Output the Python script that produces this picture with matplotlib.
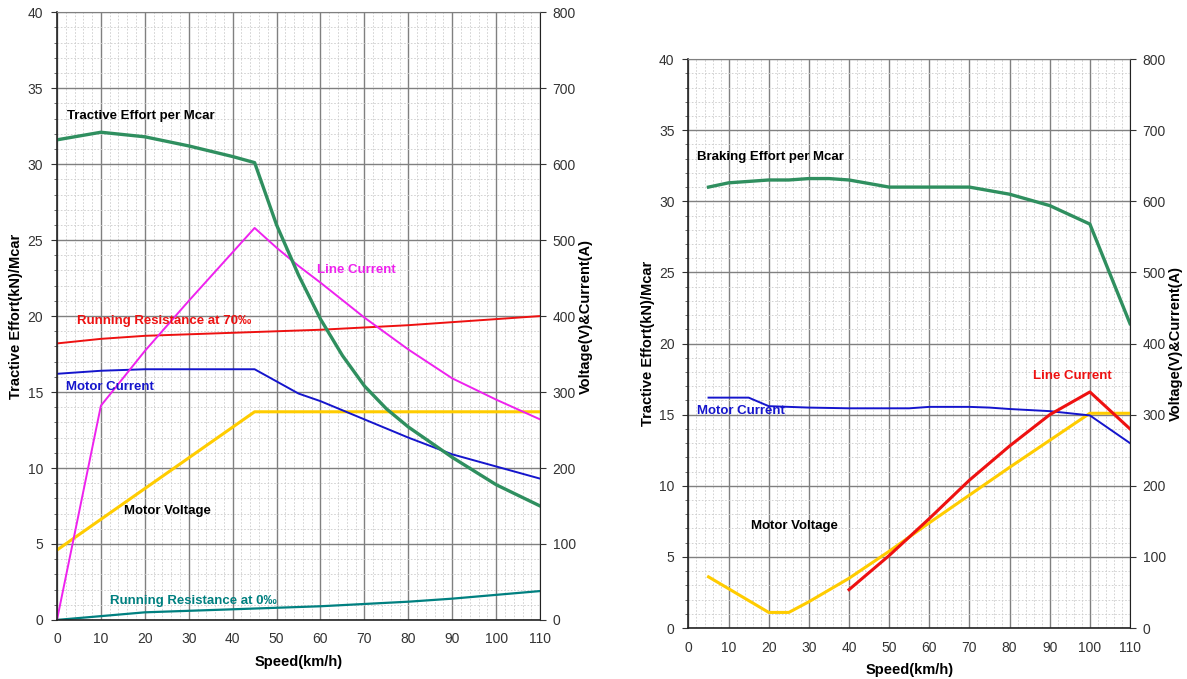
import matplotlib.pyplot as plt
from matplotlib.ticker import MultipleLocator

plt.rcParams['font.family'] = ['Liberation Sans', 'DejaVu Sans']

# ---- powering (left chart) ----
te_speed = [0, 10, 20, 30, 40, 45, 50, 55, 60, 65, 70, 75, 80, 90, 100, 110]
te_force = [31.6, 32.1, 31.8, 31.2, 30.5, 30.1, 26.0, 22.7, 19.8, 17.4, 15.4, 13.9, 12.7, 10.7, 8.9, 7.5]

lc_speed = [0, 10, 20, 30, 40, 45, 50, 55, 60, 70, 80, 90, 100, 110]
lc_value = [0.0, 14.1, 17.7, 21.0, 24.2, 25.8, 24.5, 23.3, 22.2, 19.9, 17.8, 15.9, 14.5, 13.2]

rr70_speed = [0, 10, 20, 30, 40, 50, 60, 70, 80, 90, 100, 110]
rr70_value = [18.2, 18.5, 18.7, 18.8, 18.9, 19.0, 19.1, 19.25, 19.4, 19.6, 19.8, 20.0]

mc_speed = [0, 10, 20, 45, 50, 55, 60, 70, 80, 90, 100, 110]
mc_value = [16.2, 16.4, 16.5, 16.5, 15.7, 14.9, 14.4, 13.2, 12.0, 10.9, 10.1, 9.3]

mv_speed = [0, 45, 110]
mv_value = [4.6, 13.7, 13.7]

rr0_speed = [0, 10, 20, 30, 40, 50, 60, 70, 80, 90, 100, 110]
rr0_value = [0.0, 0.25, 0.5, 0.6, 0.7, 0.8, 0.9, 1.05, 1.2, 1.4, 1.65, 1.9]

# ---- braking (right chart) ----
be_speed = [5, 10, 15, 20, 25, 30, 35, 40, 50, 60, 70, 80, 90, 100, 110]
be_force = [31.0, 31.3, 31.4, 31.5, 31.5, 31.6, 31.6, 31.5, 31.0, 31.0, 31.0, 30.5, 29.7, 28.4, 21.4]

bmc_speed = [5, 15, 20, 30, 40, 55, 60, 70, 75, 80, 90, 100, 110]
bmc_value = [16.2, 16.2, 15.6, 15.5, 15.45, 15.45, 15.55, 15.55, 15.5, 15.4, 15.25, 14.95, 13.0]

bmv_speed = [5, 20, 25, 30, 40, 50, 60, 70, 80, 90, 100, 110]
bmv_value = [3.6, 1.1, 1.1, 1.85, 3.5, 5.4, 7.4, 9.35, 11.3, 13.2, 15.1, 15.1]

blc_speed = [40, 50, 60, 70, 80, 90, 100, 110]
blc_value = [2.7, 5.1, 7.7, 10.4, 12.8, 15.0, 16.6, 14.0]

GREEN = '#2f8f5f'
MAGENTA = '#ee22ee'
RED = '#ee1111'
BLUE = '#1515cc'
YELLOW = '#ffcc00'
TEAL = '#008080'


def setup(ax):
    ax.set_xlim(0, 110)
    ax.set_ylim(0, 40)
    ax.xaxis.set_major_locator(MultipleLocator(10))
    ax.xaxis.set_minor_locator(MultipleLocator(2))
    ax.yaxis.set_major_locator(MultipleLocator(5))
    ax.yaxis.set_minor_locator(MultipleLocator(1))
    ax.grid(which='major', color='#808080', lw=1.0)
    ax.grid(which='minor', color='#cccccc', lw=0.6, ls=(0, (2, 2)))
    ax.set_axisbelow(True)
    ax.tick_params(which='major', labelsize=10, labelcolor='#333333', length=4,
                   color='#333333', pad=6)
    ax.tick_params(which='minor', length=2, color='#555555')
    ax.tick_params(axis='x', which='both', length=0, pad=9)
    for s in ['left', 'bottom']:
        ax.spines[s].set_color('#222222')
        ax.spines[s].set_linewidth(1.2)
    ax.spines['top'].set_color('#808080')
    ax.spines['right'].set_color('#222222')
    ax.set_xlabel('Speed(km/h)', fontsize=10.5, fontweight='bold', labelpad=6)
    ax.set_ylabel('Tractive Effort(kN)/Mcar', fontsize=10.5, fontweight='bold', labelpad=3)
    ax2 = ax.twinx()
    ax2.set_ylim(0, 800)
    ax2.yaxis.set_major_locator(MultipleLocator(100))
    ax2.tick_params(labelsize=10, labelcolor='#333333', length=4, color='#333333', pad=5)
    ax2.set_ylabel('Voltage(V)&Current(A)', fontsize=10.5, fontweight='bold', labelpad=2)
    for s in ax2.spines.values():
        s.set_visible(False)
    return ax2


fig = plt.figure(figsize=(11.87, 6.79), dpi=100)

# left chart
ax1 = fig.add_axes([0.048, 0.087, 0.407, 0.895])
setup(ax1)
ax1.plot(rr0_speed, rr0_value, color=TEAL, lw=1.6)
ax1.plot(rr70_speed, rr70_value, color=RED, lw=1.4)
ax1.plot(mv_speed, mv_value, color=YELLOW, lw=2.2)
ax1.plot(mc_speed, mc_value, color=BLUE, lw=1.4)
ax1.plot(lc_speed, lc_value, color=MAGENTA, lw=1.4)
ax1.plot(te_speed, te_force, color=GREEN, lw=2.4)

txt = dict(fontsize=9.5, fontweight='bold', va='center', ha='left')
ax1.text(2.3, 33.2, 'Tractive Effort per Mcar', color='black', **txt)
ax1.text(59.3, 23.0, 'Line Current', color=MAGENTA, **txt)
ax1.text(4.6, 19.7, 'Running Resistance at 70‰', color=RED, **txt)
ax1.text(2.0, 15.3, 'Motor Current', color=BLUE, **txt)
ax1.text(15.3, 7.2, 'Motor Voltage', color='black', **txt)
ax1.text(12.1, 1.25, 'Running Resistance at 0‰', color=TEAL, **txt)

# right chart
ax3 = fig.add_axes([0.580, 0.075, 0.372, 0.838])
setup(ax3)
ax3.plot(bmv_speed, bmv_value, color=YELLOW, lw=2.2)
ax3.plot(bmc_speed, bmc_value, color=BLUE, lw=1.4)
ax3.plot(blc_speed, blc_value, color=RED, lw=2.2)
ax3.plot(be_speed, be_force, color=GREEN, lw=2.4)

ax3.text(2.2, 33.1, 'Braking Effort per Mcar', color='black', **txt)
ax3.text(2.2, 15.26, 'Motor Current', color=BLUE, **txt)
ax3.text(15.6, 7.2, 'Motor Voltage', color='black', **txt)
ax3.text(85.9, 17.7, 'Line Current', color=RED, **txt)

fig.savefig('out.png', dpi=100)
